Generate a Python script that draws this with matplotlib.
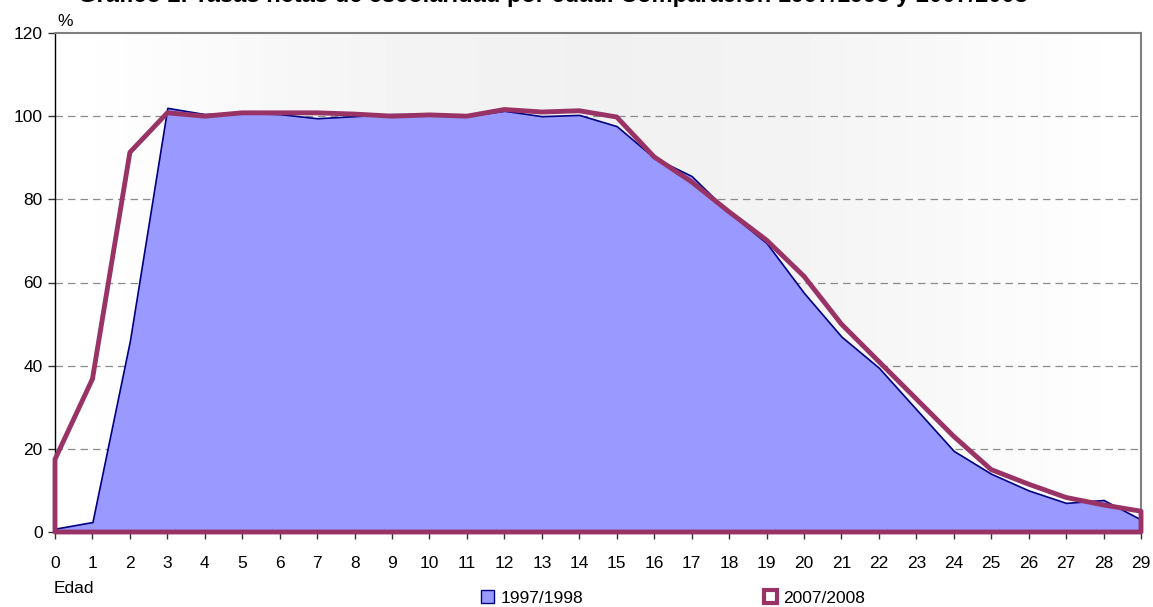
import matplotlib
matplotlib.use("Agg")
import matplotlib.pyplot as plt
import numpy as np
from matplotlib.patches import Patch

plt.rcParams['font.family'] = ['Liberation Sans', 'DejaVu Sans']

ages = list(range(0, 30))
s1997 = [0.8, 2.4, 46, 102, 100.5, 100.8, 100.5, 99.5, 100, 100.5,
         100.5, 100, 101.3, 100, 100.3, 97.6, 90, 85.6, 76.8, 69.5,
         57.5, 47, 39.5, 29.5, 19.5, 14, 10, 7, 7.7, 3]
s2007 = [17.5, 36.8, 91.3, 100.8, 100, 100.8, 100.8, 100.8, 100.5, 100,
         100.3, 100, 101.6, 101, 101.3, 99.8, 90.2, 84.2, 77, 70.2,
         61.5, 50, 41, 32, 23, 15, 11.5, 8.3, 6.5, 5]
labels = ['1997/1998', '2007/2008']
title = 'Gráfico 2. Tasas netas de escolaridad por edad. Comparación 1997/1998 y 2007/2008'

W, H = 1153, 607
fig = plt.figure(figsize=(W/100, H/100), dpi=100)
L, R, T, B = 55, 1141, 33, 532
ax = fig.add_axes([L/W, 1 - B/H, (R-L)/W, (B-T)/H])

# gradient background
grad = np.linspace(0, 1, 256)
g = 1 - 0.055 * np.sin(np.pi * grad) ** 1.2
img = np.tile(g, (2, 1))
ax.imshow(img, cmap='gray', vmin=0, vmax=1, aspect='auto',
          extent=[0, 29, 0, 120], zorder=0, interpolation='bilinear')

ax.set_xlim(0, 29)
ax.set_ylim(0, 120)

for yv in [20, 40, 60, 80, 100]:
    ax.axhline(yv, color='#8c8c8c', lw=0.9, ls=(0, (6, 4)), zorder=1)

ax.fill_between(ages, s1997, 0, facecolor='#9999FF', edgecolor='#000080',
                lw=1.2, zorder=2)
ax.fill_between(ages, s2007, 0, facecolor='none', edgecolor='#993366',
                lw=3.5, zorder=3, clip_on=False)

ax.set_xticks(ages)
ax.set_xticklabels([str(a) for a in ages])
ax.set_yticks([0, 20, 40, 60, 80, 100, 120])
ax.tick_params(axis='both', labelsize=12.5, length=5, width=1, color='#333333')
ax.tick_params(axis='x', pad=12)
ax.tick_params(axis='y', pad=4)

for s in ['left', 'bottom']:
    ax.spines[s].set_color('#000000')
    ax.spines[s].set_linewidth(1)
for s in ['top', 'right']:
    ax.spines[s].set_color('#808080')
    ax.spines[s].set_linewidth(1.5)

fig.text(57/W, 1 - 26/H, '%', fontsize=12.5, ha='left', va='baseline')
fig.text(54/W, 1 - 593/H, 'Edad', fontsize=12.5, ha='left', va='baseline')

fig.text(553/W, 1 - 2/H, title, fontsize=17, fontweight='bold',
         ha='center', va='baseline')

h1 = Patch(facecolor='#9999FF', edgecolor='#000080', lw=1)
h2 = Patch(facecolor='white', edgecolor='#993366', lw=3)
fig.legend([h1, h2], labels, loc='center', bbox_to_anchor=(673/W, 1 - 598/H),
           ncol=2, frameon=False, fontsize=12.5, handlelength=0.75,
           handleheight=0.75, handletextpad=0.4, columnspacing=10.4)

fig.savefig('out.png', dpi=100)
